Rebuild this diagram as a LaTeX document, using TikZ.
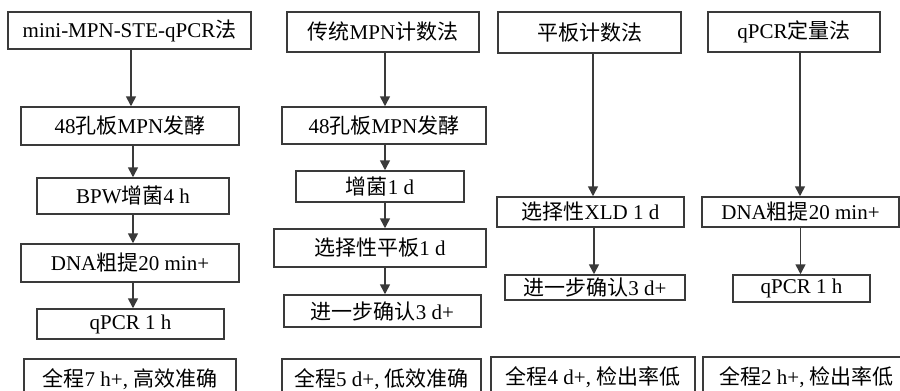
\documentclass[tikz,border=0pt]{standalone}
\usepackage{fontspec}
\setmainfont{Liberation Serif}
\newfontfamily\cjk{Noto Sans CJK SC}
\newcommand\zh[1]{{\cjk #1}}
\usetikzlibrary{arrows.meta}
\definecolor{ln}{HTML}{3A3A3A}
\tikzset{
  box/.style={draw=ln, line width=1.5pt, fill=white, inner sep=0pt, align=center,
    font=\fontsize{21pt}{24pt}\selectfont, text=black},
  arr/.style={draw=ln, line width=1.6pt, -{Triangle[width=10pt,length=10pt]}}
}
\begin{document}
\begin{tikzpicture}[x=1pt,y=-1pt]
\clip (0,0) rectangle (900,391);
\fill[white] (0,0) rectangle (900,391);
% column 1
\node[box, minimum width=243pt, minimum height=37pt] (a1) at (129.5,30.5) {mini-MPN-STE-qPCR\zh{法}};
\node[box, minimum width=218pt, minimum height=38pt] (a2) at (130,126) {48\zh{孔板}MPN\zh{发酵}};
\node[box, minimum width=192pt, minimum height=36pt] (a3) at (133,196) {BPW\zh{增菌}4 h};
\node[box, minimum width=218pt, minimum height=38pt] (a4) at (130,263) {DNA\zh{粗提}20 min+};
\node[box, minimum width=187pt, minimum height=30pt] (a5) at (130.5,324) {qPCR 1 h};
\node[box, minimum width=212pt, minimum height=40pt] (a6) at (130,379) {\zh{全程}7 h+, \zh{高效准确}};
% column 2
\node[box, minimum width=192pt, minimum height=40pt] (b1) at (383,32) {\zh{传统}MPN\zh{计数法}};
\node[box, minimum width=204pt, minimum height=37pt] (b2) at (384,125.5) {48\zh{孔板}MPN\zh{发酵}};
\node[box, minimum width=168pt, minimum height=31pt] (b3) at (380,186.5) {\zh{增菌}1 d};
\node[box, minimum width=212pt, minimum height=38pt] (b4) at (380,248) {\zh{选择性平板}1 d};
\node[box, minimum width=197pt, minimum height=32pt] (b5) at (382.5,311) {\zh{进一步确认}3 d+};
\node[box, minimum width=199pt, minimum height=40pt] (b6) at (381.5,379) {\zh{全程}5 d+, \zh{低效准确}};
% column 3
\node[box, minimum width=183pt, minimum height=41pt] (c1) at (589.5,32.5) {\zh{平板计数法}};
\node[box, minimum width=187pt, minimum height=30pt] (c2) at (590.5,212) {\zh{选择性}XLD 1 d};
\node[box, minimum width=180pt, minimum height=25pt] (c3) at (595,287.5) {\zh{进一步确认}3 d+};
\node[box, minimum width=204pt, minimum height=40pt] (c4) at (593,377) {\zh{全程}4 d+, \zh{检出率低}};
% column 4
\node[box, minimum width=172pt, minimum height=40pt] (d1) at (794,32) {qPCR\zh{定量法}};
\node[box, minimum width=197pt, minimum height=30pt] (d2) at (800.5,212) {DNA\zh{粗提}20 min+};
\node[box, minimum width=137pt, minimum height=27pt] (d3) at (801.5,288.5) {qPCR 1 h};
\node[box, minimum width=207pt, minimum height=40pt] (d4) at (806.5,377) {\zh{全程}2 h+, \zh{检出率低}};
% arrows
\draw[arr] ([xshift=1.5pt]a1.south) -- ([xshift=1.5pt]a1.south |- a2.north);
\draw[arr] ([xshift=3pt]a2.south) -- ([xshift=3pt]a2.south |- a3.north);
\draw[arr] (a3.south) -- (a3.south |- a4.north);
\draw[arr] ([xshift=3pt]a4.south) -- ([xshift=3pt]a4.south |- a5.north);
\draw[arr] ([xshift=2pt]b1.south) -- ([xshift=2pt]b1.south |- b2.north);
\draw[arr] ([xshift=1pt]b2.south) -- ([xshift=1pt]b2.south |- b3.north);
\draw[arr] ([xshift=5pt]b3.south) -- ([xshift=5pt]b3.south |- b4.north);
\draw[arr] ([xshift=5pt]b4.south) -- ([xshift=5pt]b4.south |- b5.north);
\draw[arr] ([xshift=3.5pt]c1.south) -- ([xshift=3.5pt]c1.south |- c2.north);
\draw[arr] ([xshift=3.5pt]c2.south) -- ([xshift=3.5pt]c2.south |- c3.north);
\draw[arr] ([xshift=6pt]d1.south) -- ([xshift=6pt]d1.south |- d2.north);
\draw[arr] (d2.south) -- (d2.south |- d3.north);
\end{tikzpicture}
\end{document}
